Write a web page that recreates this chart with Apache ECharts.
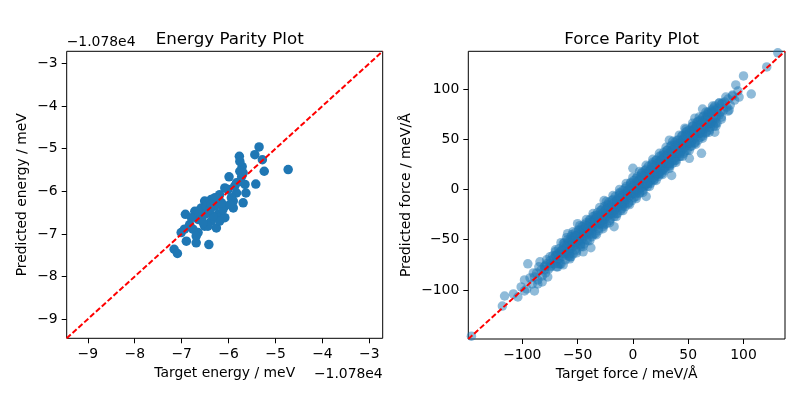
<!DOCTYPE html>
<html>
<head>
<meta charset="utf-8">
<script src="https://cdn.jsdelivr.net/npm/echarts@6/dist/echarts.min.js"></script>
<style>
html,body{margin:0;padding:0;background:#fff;}
#chart{width:800px;height:400px;}
</style>
</head>
<body>
<div id="chart"></div>
<script>
// Energy values are relative to the offset -1.078e4 meV
const energyOffsetLabel = '\u22121.078e4';
const energyTarget = [-5.35,-5.44,-5.28,-5.77,-4.73,-5.71,-5.24,-5.99,-5.76,-5.72,-5.42,-5.65,-5.76,-6.08,-5.63,-5.83,-6.19,-5.94,-5.69,-6.37,-6.51,-5.90,-6.08,-6.29,-6.58,-6.72,-6.92,-6.44,-6.22,-6.08,-6.65,-6.37,-6.83,-6.51,-6.26,-7.01,-6.65,-6.90,-6.69,-6.42,-7.16,-7.09,-6.76,-6.58,-6.19,-6.47,-6.01,-5.87,-6.22,-6.33,-6.79,-6.94,-6.51,-5.90,-6.12,-6.40,-6.65,-6.44,-6.69,-5.76,-5.69,-5.83,-5.97,-6.29,-6.54,-6.37,-6.15];
const energyPredicted = [-4.96,-5.14,-5.26,-5.18,-5.49,-5.42,-5.53,-5.66,-5.53,-5.65,-5.83,-5.84,-5.77,-5.92,-6.04,-6.04,-6.08,-6.15,-6.27,-6.19,-6.23,-6.39,-6.35,-6.35,-6.39,-6.47,-6.54,-6.50,-6.54,-6.62,-6.66,-6.70,-6.78,-6.82,-6.86,-6.97,-6.97,-7.17,-7.21,-7.25,-7.36,-7.46,-6.89,-6.62,-6.70,-6.35,-5.96,-5.88,-6.19,-6.58,-6.62,-6.89,-6.54,-6.23,-6.43,-6.43,-6.47,-6.82,-7.05,-5.30,-5.57,-5.80,-6.31,-6.15,-6.74,-6.31,-6.27];
const energyTicks = [-9,-8,-7,-6,-5,-4,-3];
const energyRange = [-9.45, -2.715];

// Force points: [target, predicted] in meV/Å
const forcePoints = [
[-108,-104],[-104,-107],[-101,-97],[-96,-99],[-93,-88],[-91,-94],[-87,-83],[-86,-90],[-83,-80],[-82,-86],[-80,-77],[-79,-83],[-78,-74],[-76,-79],[-75,-71],[-74,-76],[-72,-69],[-71,-74],[-70,-66],[-69,-71],[-68,-64],[-67,-69],[-66,-62],[-65,-67],[-64,-60],[-63,-66],[-62,-59],[-61,-64],[-60,-56],[-60,-62],
[-59,-54],[-58,-61],[-58,-52],[-57,-57],[-56,-50],[-56,-59],[-55,-52],[-54,-57],[-54,-48],[-53,-53],[-52,-47],[-52,-55],[-51,-46],[-50,-52],[-50,-45],[-49,-51],[-48,-43],[-48,-50],[-47,-45],[-46,-50],[-46,-40],[-45,-46],[-44,-41],[-44,-47],[-43,-38],[-42,-45],[-42,-39],[-41,-43],[-40,-35],[-40,-42],
[-39,-37],[-39,-33],[-38,-41],[-37,-32],[-37,-37],[-36,-38],[-35,-30],[-35,-35],[-34,-37],[-33,-28],[-33,-33],[-32,-35],[-31,-27],[-31,-31],[-30,-34],[-29,-25],[-29,-29],[-28,-31],[-27,-23],[-27,-28],[-26,-30],[-25,-21],[-25,-26],[-24,-27],[-23,-19],[-23,-24],[-22,-26],[-21,-18],[-21,-22],[-20,-24],
[-19,-15],[-19,-20],[-18,-22],[-17,-13],[-17,-18],[-16,-20],[-15,-11],[-15,-16],[-14,-18],[-13,-9],[-13,-14],[-12,-16],[-11,-8],[-11,-12],[-10,-14],[-9,-5],[-9,-10],[-8,-12],[-7,-4],[-7,-8],[-6,-10],[-5,-1],[-5,-6],[-4,-8],[-3,0],[-3,-4],[-2,-6],[-1,2],[-1,-2],[0,-4],
[0,3],[1,-2],[1,5],[2,-1],[3,4],[3,-1],[4,8],[5,2],[5,-1],[6,10],[7,4],[7,1],[8,12],[9,6],[9,3],[10,14],[11,8],[11,4],[12,16],[13,10],[13,6],[14,18],[15,12],[15,8],[16,20],[17,14],[17,10],[18,22],[19,16],[19,12],
[20,24],[21,18],[21,14],[22,26],[23,20],[23,16],[24,28],[25,22],[25,18],[26,30],[27,24],[27,20],[28,32],[29,26],[29,22],[30,34],[31,28],[31,24],[32,36],[33,30],[33,26],[34,38],[35,32],[35,28],[36,40],[37,34],[37,30],[38,42],[39,36],[39,32],
[40,44],[41,37],[41,46],[42,40],[43,47],[43,38],[44,42],[45,50],[45,40],[46,44],[47,52],[47,42],[48,46],[49,54],[49,44],[50,48],[51,56],[51,46],[52,50],[53,58],[53,48],[54,52],[55,60],[55,50],[56,54],[57,62],[57,52],[58,56],[59,63],[60,56],
[61,65],[61,57],[62,60],[63,68],[64,60],[65,63],[66,71],[66,61],[67,65],[68,73],[69,65],[70,68],[71,76],[72,68],[73,71],[74,79],[75,71],[76,74],[77,81],[78,74],[79,77],[80,85],[82,79],[83,87],[85,82],[86,90],[88,84],[90,93],[92,89],[95,98],
[-70,-60],[-66,-74],[-62,-53],[-58,-66],[-55,-45],[-52,-60],[-49,-40],[-47,-55],[-44,-35],[-42,-50],[-39,-30],[-36,-45],[-34,-26],[-31,-39],[-28,-20],[-26,-35],[-23,-15],[-20,-29],[-18,-10],[-15,-24],[-12,-4],[-10,-19],[-7,1],[-4,-13],[-2,6],[1,-8],[3,11],[6,-3],[8,16],[10,2],[12,20],[14,6],[17,25],[19,10],[21,29],[24,15],[26,34],[28,20],[31,39],[33,24],[35,44],[38,29],[40,49],[42,33],[45,54],[47,38],[49,58],[52,43],[54,63],[56,47],[59,68],[61,52],[63,72],[66,57],[68,76],[70,62],[73,81],[75,66],[78,86],[80,72],[84,92],[86,78],[-85,-77],[-82,-92],[-90,-83],[-78,-70],
[-45,-43],[-35,-33],[-25,-24],[-15,-14],[-5,-4],[5,5],[15,15],[25,26],[35,36],[45,46],[55,56],[65,66],[-55,-54],[-65,-64],[-75,-74],
[-70,-62],[-68,-77],[-67,-59],[-65,-74],[-63,-54],[-61,-70],[-59,-50],[-57,-67],[-56,-47],[-54,-64],[-52,-43],[-51,-61],[-49,-41],[-47,-57],[-46,-37],[-44,-54],[-42,-33],[-41,-51],[-39,-31],[-37,-47],[-36,-27],[-34,-44],[-32,-23],[-31,-41],[-29,-21],[-27,-37],[-26,-17],[-24,-34],[-22,-13],[-21,-31],[-19,-11],[-17,-27],[-16,-7],[-14,-24],[-12,-3],[-11,-21],[-9,-1],[-7,-17],[-6,3],[-4,-14],[-2,7],[-1,-11],[1,9],[3,-7],[4,13],[6,-4],[8,17],[9,-1],[11,19],[13,3],[14,23],[16,6],[18,27],[19,9],[21,29],[23,13],[24,33],[26,16],[28,37],[29,19],[31,39],[33,23],[34,43],[36,26],[38,47],[39,29],[41,49],[43,33],[44,53],[46,36],[48,57],[49,39],[51,59],[53,43],[54,63],[56,46],[58,67],[59,49],[61,69],[63,53],[64,73],[66,56],[68,77],[69,59],[71,79],[73,63],[74,83],[76,66],[78,86],[80,70],
[-64.5,-61],[-59.5,-63],[-54.5,-51],[-49.5,-54],[-44.5,-40],[-39.5,-44],[-34.5,-31],[-29.5,-34],[-24.5,-20],[-19.5,-24],[-14.5,-11],[-9.5,-14],[-4.5,-1],[0.5,-4],[5.5,9],[10.5,6],[15.5,19],[20.5,16],[25.5,29],[30.5,26],[35.5,39],[40.5,36],[45.5,49],[50.5,46],[55.5,59],[60.5,56],[65.5,69],[70.5,66],[75.5,78],[-69.5,-66],[-74.5,-77],[-79.5,-76],
[-65,-53],[-63,-75],[-60,-48],[-57,-69],[-54,-42],[-51,-63],[-48,-36],[-45,-57],[-42,-30],[-39,-51],[-36,-24],[-33,-45],[-30,-18],[-27,-39],[-24,-12],[-21,-33],[-18,-6],[-15,-27],[-12,0],[-9,-21],[-6,6],[-3,-15],[0,12],[3,-9],[6,18],[9,-3],[12,24],[15,3],[18,30],[21,9],[24,36],[27,15],[30,42],[33,21],[36,48],[39,27],[42,54],[45,33],[48,60],[51,39],[54,66],[57,45],[60,72],[63,51],[66,77],[69,57],[72,83],[75,63],
[-62.5,-56],[-57.5,-64],[-52.5,-46],[-47.5,-54],[-42.5,-36],[-37.5,-44],[-32.5,-26],[-27.5,-34],[-22.5,-16],[-17.5,-24],[-12.5,-6],[-7.5,-14],[-2.5,4],[2.5,-4],[7.5,14],[12.5,6],[17.5,24],[22.5,16],[27.5,34],[32.5,26],[37.5,44],[42.5,36],[47.5,54],[52.5,46],[57.5,64],[62.5,56],[67.5,74],[72.5,66],[-67.5,-74],[-72.5,-66],
[-146,-146],[-118,-116],[-116,-106],[-98,-90],[-89,-101],[-98,-101],[-95,-74],[-84,-72],[-86,-94],[-89,-87],[-77,-87],[-75,-67],[-56,-67],[-45,-62],[-38,-58],[-59,-44],[-50,-34],[-26,-11],[-17,-37],[-69,-77],[-80,-80],
[131,136],[121,122],[100,113],[93,104],[107,95],[90,94],[96,92],[81,86],[87,79],[63,80],[71,77],[56,71],[74,57],[47,61],[62,36],[51,31],[33,49],[0,21],[35,14],[12,-7],[-10,-17]
];
const forceTicks = [-100,-50,0,50,100];
const forceRange = [-148.8, 137.5];

const FONT = 'DejaVu Sans';
const BLUE = '#1f77b4';
const fmt = v => String(v).replace('-', '\u2212');

function axisCommon(range, ticks, name, gap) {
  return {
    type: 'value', min: range[0], max: range[1],
    name: name, nameLocation: 'middle', nameGap: gap,
    nameTextStyle: {fontFamily: FONT, fontSize: 13.9, color: '#000'},
    axisLine: {show: false, onZero: false},
    axisTick: {show: true, length: 5, lineStyle: {color: '#000', width: 1}, customValues: ticks},
    axisLabel: {show: true, margin: 9, fontFamily: FONT, fontSize: 13.9, color: '#000', formatter: fmt, customValues: ticks},
    splitLine: {show: false}
  };
}

const chart = echarts.init(document.getElementById('chart'), null, {renderer: 'canvas'});
const energyData = energyTarget.map((t, i) => [t, energyPredicted[i]]);

chart.setOption({
  animation: false,
  backgroundColor: '#fff',
  title: [
    {text: 'Energy Parity Plot', left: 224.7, top: 26, textAlign: 'center',
     textStyle: {fontFamily: FONT, fontSize: 16.7, fontWeight: 'normal', color: '#000'}},
    {text: 'Force Parity Plot', left: 626.6, top: 26, textAlign: 'center',
     textStyle: {fontFamily: FONT, fontSize: 16.7, fontWeight: 'normal', color: '#000'}}
  ],
  grid: [
    {left: 66.7, top: 51.3, width: 316, height: 287, show: true, borderColor: '#000', borderWidth: 1, backgroundColor: 'transparent'},
    {left: 468.3, top: 51.3, width: 316.7, height: 287.7, show: true, borderColor: '#000', borderWidth: 1, backgroundColor: 'transparent'}
  ],
  xAxis: [
    Object.assign(axisCommon(energyRange, energyTicks, 'Target energy / meV', 28), {gridIndex: 0}),
    Object.assign(axisCommon(forceRange, forceTicks, 'Target force / meV/\u00c5', 28), {gridIndex: 1})
  ],
  yAxis: [
    Object.assign(axisCommon(energyRange, energyTicks, 'Predicted energy / meV', 37), {gridIndex: 0}),
    Object.assign(axisCommon(forceRange, forceTicks, 'Predicted force / meV/\u00c5', 55), {gridIndex: 1})
  ],
  graphic: [
    {type: 'text', left: 66.7, top: 35, style: {text: energyOffsetLabel, font: '13.9px "DejaVu Sans"', fill: '#000'}},
    {type: 'text', right: 800 - 382.7, top: 367, style: {text: energyOffsetLabel, font: '13.9px "DejaVu Sans"', fill: '#000'}}
  ],
  series: [
    {type: 'scatter', xAxisIndex: 0, yAxisIndex: 0, data: energyData, symbolSize: 9.5,
     itemStyle: {color: BLUE, opacity: 1}, clip: true, z: 2},
    {type: 'line', xAxisIndex: 0, yAxisIndex: 0, data: [[energyRange[0], energyRange[0]], [energyRange[1], energyRange[1]]],
     showSymbol: false, symbol: 'none', lineStyle: {color: '#ff0000', width: 2, type: [5.5, 2.4]}, z: 3, clip: true},
    {type: 'scatter', xAxisIndex: 1, yAxisIndex: 1, data: forcePoints, symbolSize: 9.5, large: false, progressive: 0,
     itemStyle: {color: BLUE, opacity: 0.5}, clip: true, z: 2},
    {type: 'line', xAxisIndex: 1, yAxisIndex: 1, data: [[forceRange[0], forceRange[0]], [forceRange[1], forceRange[1]]],
     showSymbol: false, symbol: 'none', lineStyle: {color: '#ff0000', width: 2, type: [5.5, 2.4]}, z: 3, clip: true}
  ]
});
</script>
</body>
</html>
